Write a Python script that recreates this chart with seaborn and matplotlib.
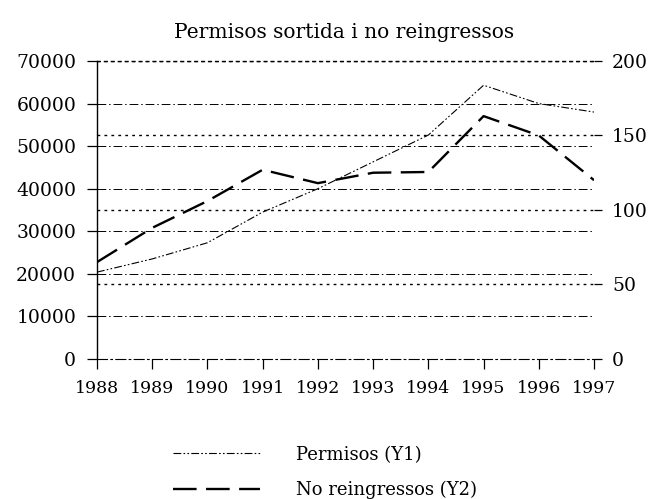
import matplotlib
matplotlib.use("Agg")
import matplotlib.pyplot as plt
import seaborn as sns
import pandas as pd
from matplotlib.lines import Line2D

years = ["1988", "1989", "1990", "1991", "1992", "1993", "1994", "1995", "1996", "1997"]
permisos = [20400, 23500, 27300, 34500, 40000, 46300, 52600, 64300, 60000, 58000]
no_reingressos = [65, 88, 106, 127, 118, 125, 125.5, 163, 150, 120]
y1_ticks = [0, 10000, 20000, 30000, 40000, 50000, 60000, 70000]
y2_ticks = [0, 50, 100, 150, 200]
title = "Permisos sortida i no reingressos"
label1 = "Permisos (Y1)"
label2 = "No reingressos (Y2)"

sns.set_theme(style="white")
plt.rcParams["font.family"] = ["DejaVu Serif", "Liberation Serif"]
plt.rcParams["text.color"] = "black"

df = pd.DataFrame({"pos": range(len(years)), "year": years,
                   "permisos": permisos, "noreing": no_reingressos})

fig = plt.figure(figsize=(6.53, 4.99), dpi=100)
ax = fig.add_axes([0.1485, 0.2806, 0.7612, 0.5972])
ax2 = ax.twinx()

# gridlines
for v in y1_ticks[1:-1]:
    ax.axhline(v, color="black", lw=0.7, ls=(0, (9, 3, 1.5, 3)), zorder=1)
for v in y2_ticks[1:]:
    ax2.axhline(v, color="black", lw=1.0, ls=(0, (2, 3)), zorder=1)

pl_ls = (0, (7, 2, 1.5, 2, 1.5, 2))
nr_ls = (0, (10, 4))
sns.lineplot(data=df, x="pos", y="permisos", ax=ax, color="black", lw=0.8,
             linestyle=pl_ls, legend=False, zorder=3)
sns.lineplot(data=df, x="pos", y="noreing", ax=ax2, color="black", lw=1.7,
             linestyle=nr_ls, legend=False, zorder=3)

ax.set_xlim(0, len(years) - 1)
ax.set_ylim(0, 70000)
ax2.set_ylim(0, 200)
ax.set_xticks(range(len(years)))
ax.set_xticklabels(years)
ax.set_yticks(y1_ticks)
ax.set_yticklabels([str(v) for v in y1_ticks])
ax2.set_yticks(y2_ticks)
ax2.set_yticklabels([str(v) for v in y2_ticks])
ax.set_xlabel("")
ax.set_ylabel("")
ax2.set_ylabel("")

for a in (ax, ax2):
    for s in a.spines.values():
        s.set_visible(False)
ax.spines["left"].set_visible(True)
ax.spines["left"].set_color("black")
ax.spines["left"].set_linewidth(1.0)
ax.spines["left"].set_bounds(0, 70000)
ax.spines["bottom"].set_visible(True)
ax.spines["bottom"].set_color("black")
ax.spines["bottom"].set_linewidth(0.8)
ax.spines["bottom"].set_linestyle((0, (9, 3, 1.5, 3)))
ax.spines["top"].set_visible(True)
ax.spines["top"].set_color("black")
ax.spines["top"].set_linewidth(1.0)
ax.spines["top"].set_linestyle((0, (2, 3)))

ax.tick_params(axis="y", which="both", left=True, length=7, width=0.9,
               color="black", labelsize=13.5, pad=8, labelcolor="black")
ax.tick_params(axis="x", bottom=True, length=7, width=0.9, color="black",
               labelsize=12.5, pad=8, labelcolor="black")
ax2.tick_params(axis="y", right=True, length=6, width=0.9, color="black",
                labelsize=13.5, pad=7, labelcolor="black")

fig.text(0.527, 0.935, title, ha="center", va="center", fontsize=14.5, color="black")

handles = [Line2D([], [], color="black", lw=0.8, linestyle=pl_ls),
           Line2D([], [], color="black", lw=1.7, linestyle=nr_ls)]
fig.legend(handles, [label1, label2], loc="upper left",
           bbox_to_anchor=(0.265, 0.107), frameon=False, fontsize=13,
           handlelength=4.8, handletextpad=2.0, labelspacing=0.95,
           borderaxespad=0, borderpad=0, labelcolor="black")

fig.savefig("out.png", dpi=100)
